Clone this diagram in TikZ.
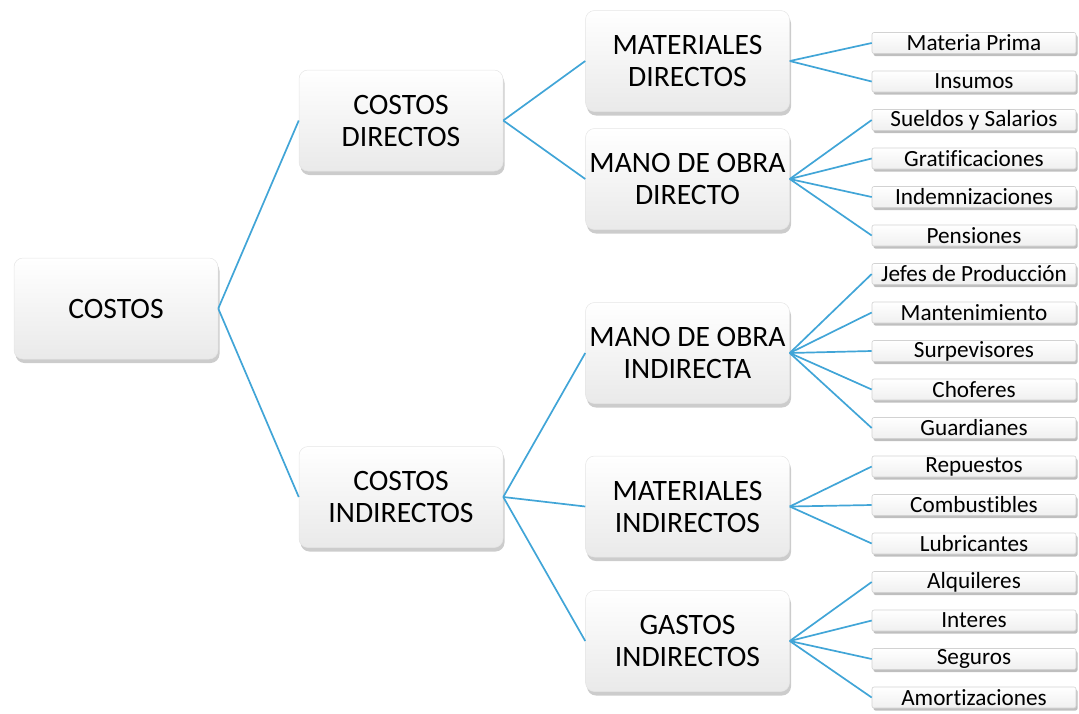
\documentclass[tikz,border=0pt]{standalone}
\usepackage{fontspec}
\setmainfont[Ligatures=NoCommon]{Carlito}
\usepackage{tikz}
\usetikzlibrary{shadows}
\definecolor{bleu}{RGB}{65,165,215}

\begin{document}
\begin{tikzpicture}[x=1pt,y=-1pt]
\tikzstyle{trait}=[line width=1.7pt,color=bleu]
\tikzstyle{boite}=[rounded corners=9pt,minimum width=204pt,minimum height=101pt,inner sep=0pt,align=center,draw=gray!20,line width=0.5pt,top color=white,bottom color=gray!17,drop shadow={shadow xshift=1.5pt,shadow yshift=-4pt,opacity=0.4},font=\fontsize{29.6}{32}\selectfont]
\tikzstyle{feuille}=[rounded corners=2pt,minimum width=204pt,minimum height=21pt,inner sep=0pt,draw=gray!35,line width=0.6pt,top color=white,bottom color=gray!12,drop shadow={shadow xshift=1.5pt,shadow yshift=-2.5pt,opacity=0.5},font=\fontsize{23.2}{23}\selectfont]
\def\ColA{116}
\def\ColB{401}
\def\ColC{687.5}
\def\ColD{974}
\def\Pas{38.5}
\def\Depart{43}
\useasboundingbox (0,0) rectangle (1079,713);
\node[boite] (R) at ({\ColA},{308.5}) {COSTOS};
\node[boite] (Ra) at ({\ColB},{120.5}) {COSTOS\\DIRECTOS};
\node[boite] (Rb) at ({\ColB},{497}) {COSTOS\\INDIRECTOS};
\node[boite] (Raa) at ({\ColC},{61}) {MATERIALES\\DIRECTOS};
\node[boite] (Rab) at ({\ColC},{179}) {MANO DE OBRA\\DIRECTO};
\node[boite] (Rba) at ({\ColC},{353}) {MANO DE OBRA\\INDIRECTA};
\node[boite] (Rbb) at ({\ColC},{506.5}) {MATERIALES\\INDIRECTOS};
\node[boite] (Rbc) at ({\ColC},{641}) {GASTOS\\INDIRECTOS};
\node[feuille] (Raaa) at ({\ColD},{\Depart+(0)*\Pas}) {Materia Prima};
\node[feuille] (Raab) at ({\ColD},{\Depart+(1)*\Pas}) {Insumos};
\node[feuille] (Raba) at ({\ColD},{\Depart+(2)*\Pas}) {Sueldos y Salarios};
\node[feuille] (Rabb) at ({\ColD},{\Depart+(3)*\Pas}) {Gratificaciones};
\node[feuille] (Rabc) at ({\ColD},{\Depart+(4)*\Pas}) {Indemnizaciones};
\node[feuille] (Rabd) at ({\ColD},{\Depart+(5)*\Pas}) {Pensiones};
\node[feuille] (Rbaa) at ({\ColD},{\Depart+(6)*\Pas}) {Jefes de Producción};
\node[feuille] (Rbab) at ({\ColD},{\Depart+(7)*\Pas}) {Mantenimiento};
\node[feuille] (Rbac) at ({\ColD},{\Depart+(8)*\Pas}) {Surpevisores};
\node[feuille] (Rbad) at ({\ColD},{\Depart+(9)*\Pas}) {Choferes};
\node[feuille] (Rbae) at ({\ColD},{\Depart+(10)*\Pas}) {Guardianes};
\node[feuille] (Rbba) at ({\ColD},{\Depart+(11)*\Pas}) {Repuestos};
\node[feuille] (Rbbb) at ({\ColD},{\Depart+(12)*\Pas}) {Combustibles};
\node[feuille] (Rbbc) at ({\ColD},{\Depart+(13)*\Pas}) {Lubricantes};
\node[feuille] (Rbca) at ({\ColD},{\Depart+(14)*\Pas}) {Alquileres};
\node[feuille] (Rbcb) at ({\ColD},{\Depart+(15)*\Pas}) {Interes};
\node[feuille] (Rbcc) at ({\ColD},{\Depart+(16)*\Pas}) {Seguros};
\node[feuille] (Rbcd) at ({\ColD},{\Depart+(17)*\Pas}) {Amortizaciones};
\draw[trait] (R.east)--(Ra.west);
\draw[trait] (R.east)--(Rb.west);
\draw[trait] (Ra.east)--(Raa.west);
\draw[trait] (Ra.east)--(Rab.west);
\draw[trait] (Rb.east)--(Rba.west);
\draw[trait] (Rb.east)--(Rbb.west);
\draw[trait] (Rb.east)--(Rbc.west);
\draw[trait] (Raa.east)--(Raaa.west);
\draw[trait] (Raa.east)--(Raab.west);
\draw[trait] (Rab.east)--(Raba.west);
\draw[trait] (Rab.east)--(Rabb.west);
\draw[trait] (Rab.east)--(Rabc.west);
\draw[trait] (Rab.east)--(Rabd.west);
\draw[trait] (Rba.east)--(Rbaa.west);
\draw[trait] (Rba.east)--(Rbab.west);
\draw[trait] (Rba.east)--(Rbac.west);
\draw[trait] (Rba.east)--(Rbad.west);
\draw[trait] (Rba.east)--(Rbae.west);
\draw[trait] (Rbb.east)--(Rbba.west);
\draw[trait] (Rbb.east)--(Rbbb.west);
\draw[trait] (Rbb.east)--(Rbbc.west);
\draw[trait] (Rbc.east)--(Rbca.west);
\draw[trait] (Rbc.east)--(Rbcb.west);
\draw[trait] (Rbc.east)--(Rbcc.west);
\draw[trait] (Rbc.east)--(Rbcd.west);
\end{tikzpicture}
\end{document}
